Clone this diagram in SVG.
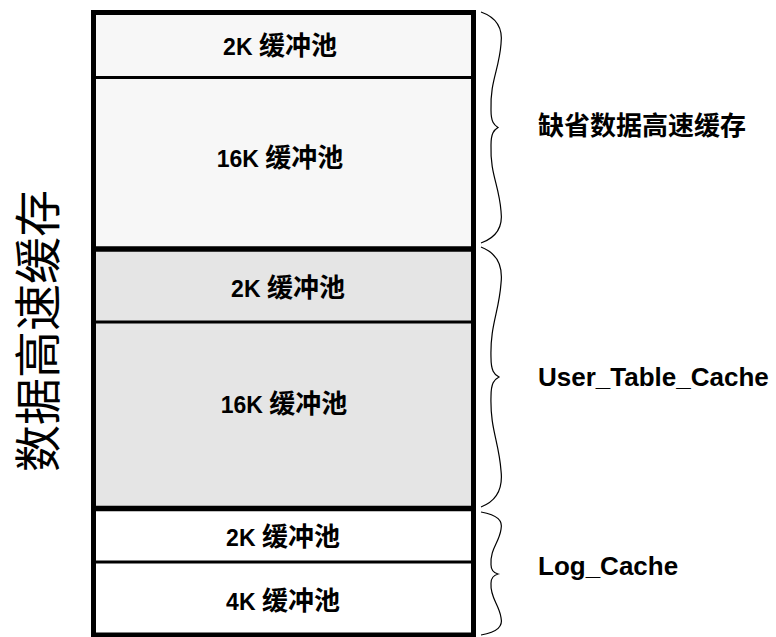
<svg xmlns="http://www.w3.org/2000/svg" width="776" height="637" viewBox="0 0 776 637">
  <style>
    .pool { font-family: "Liberation Sans", "Noto Sans CJK SC", sans-serif; font-weight: bold; font-size: 23px; fill: #000; text-anchor: middle; }
    .cjk { font-size: 26px; }
    .label { font-family: "Liberation Sans", "Noto Sans CJK SC", sans-serif; font-weight: bold; font-size: 26px; fill: #000; }
    .title { font-family: "Noto Sans CJK SC", "Liberation Sans", sans-serif; font-size: 47px; fill: #000; text-anchor: middle; }
    .thin { stroke: #000; stroke-width: 3; }
    .thick { stroke: #000; stroke-width: 5.5; }
    .brace { fill: none; stroke: #000; stroke-width: 1.2; }
  </style>
  <rect width="776" height="637" fill="#fff"/>

  <g id="title">
    <text class="title" transform="translate(55,331) rotate(-90)" x="0" y="0">数据高速缓存</text>
  </g>

  <g id="default-2k">
    <rect x="93.5" y="12.5" width="380" height="65" fill="#f7f7f7"/>
    <text class="pool" x="280" y="55">2K <tspan class="cjk">缓冲池</tspan></text>
  </g>
  <g id="default-16k">
    <rect x="93.5" y="77.5" width="380" height="171.5" fill="#f7f7f7"/>
    <text class="pool" x="280" y="167">16K <tspan class="cjk">缓冲池</tspan></text>
  </g>
  <g id="user-2k">
    <rect x="93.5" y="249" width="380" height="73" fill="#e5e5e5"/>
    <text class="pool" x="288" y="297">2K <tspan class="cjk">缓冲池</tspan></text>
  </g>
  <g id="user-16k">
    <rect x="93.5" y="322" width="380" height="186.5" fill="#e5e5e5"/>
    <text class="pool" x="284" y="413">16K <tspan class="cjk">缓冲池</tspan></text>
  </g>
  <g id="log-2k">
    <rect x="93.5" y="508.5" width="380" height="53.5" fill="#ffffff"/>
    <text class="pool" x="283" y="546">2K <tspan class="cjk">缓冲池</tspan></text>
  </g>
  <g id="log-4k">
    <rect x="93.5" y="562" width="380" height="73" fill="#ffffff"/>
    <text class="pool" x="283" y="610">4K <tspan class="cjk">缓冲池</tspan></text>
  </g>

  <g id="borders">
    <line class="thin" x1="93.5" y1="77.5" x2="473.5" y2="77.5"/>
    <line class="thin" x1="93.5" y1="322" x2="473.5" y2="322"/>
    <line class="thin" x1="93.5" y1="562" x2="473.5" y2="562"/>
    <line class="thick" x1="93.5" y1="249" x2="473.5" y2="249"/>
    <line class="thick" x1="93.5" y1="508.5" x2="473.5" y2="508.5"/>
    <rect x="93.5" y="12.5" width="380" height="622.5" fill="none" stroke="#000" stroke-width="5"/>
  </g>

  <g id="connectors">
    <path class="brace" d="M481,12 C498,18 503,29 501,44 C499,70 490,81 491,110 C491,122 494,125 498,127.5 C494,130 491,133 491,145 C490,174 499,185 501,211 C503,226 498,237 481,243"/>
    <path class="brace" d="M481,247 C498,253.5 503,266.5 501,283.4 C499,312 490,325 491,357.5 C491,370.5 494,374.4 499,377 C494,379.6 491,383.5 491,396.5 C490,429 499,442 501,470.6 C503,487.5 498,500.5 481,507"/>
    <path class="brace" d="M481,512 C498,515 503,521 501,529.4 C499,543 490,549 491,564.7 C491,571 494,572.8 498,574 C494,575.2 491,577 491,583.3 C490,598 499,604 501,617.6 C503,626 498,632 481,635"/>
  </g>

  <g id="label-default">
    <text class="label" x="538" y="135">缺省数据高速缓存</text>
  </g>
  <g id="label-user">
    <text class="label" x="538" y="386">User_Table_Cache</text>
  </g>
  <g id="label-log">
    <text class="label" x="538" y="575">Log_Cache</text>
  </g>
</svg>
